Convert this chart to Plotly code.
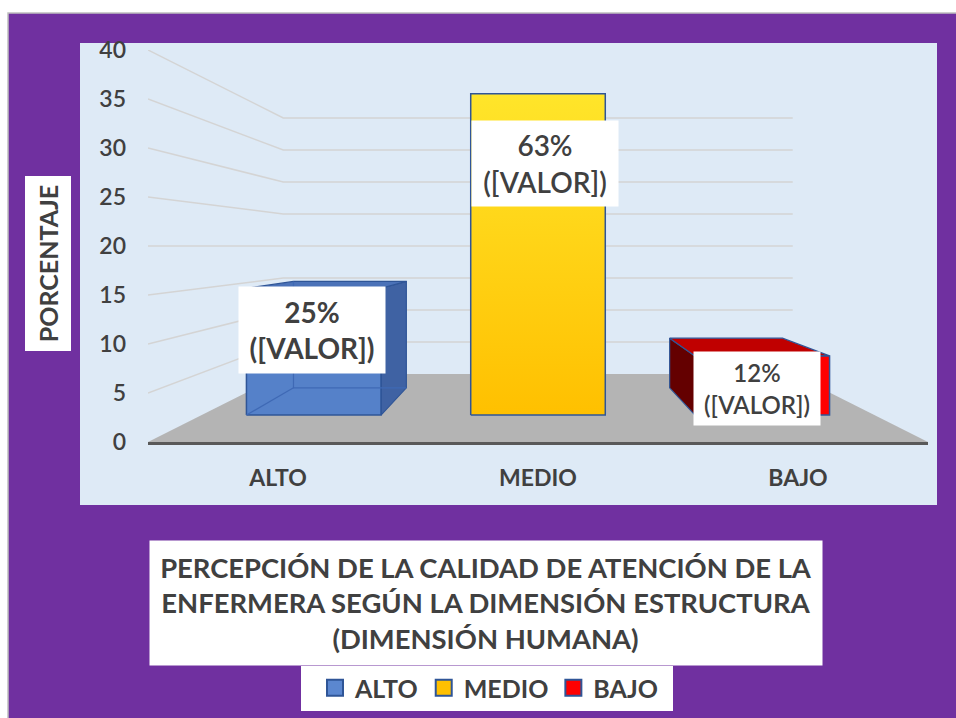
import plotly.graph_objects as go

# ---------------- data ----------------
categories = ["ALTO", "MEDIO", "BAJO"]
values = [15, 38, 7]                      # counts (n = 60)
total = sum(values)
pct_labels = [f"{round(v / total * 100)}%" for v in values]
y_ticks = [0, 5, 10, 15, 20, 25, 30, 35, 40]

# ---------------- styles ----------------
PURPLE = "#7030A0"
PLOT_BG = "#DEEAF6"
TXT = "#404040"
FONT = "Lato"
face_colors = {
    "ALTO": dict(front="#5581C9", side="#3F62A3", top="#4B72B8"),
    "MEDIO": dict(front="#FFC000", side="#D9A300", top="#FFD34D"),
    "BAJO": dict(front="#FF0000", side="#640000", top="#C00000"),
}
legend_colors = {"ALTO": "#5B87D0", "MEDIO": "#FFC000", "BAJO": "#FF0000"}
EDGE = "#2F5597"

# perspective "camera" (in category / value units)
VPX, VPV, K = 1.5, 20.0, 0.531
D0, D1, HALF_W = 0.30, 0.72, 0.30


def proj(X, V, d):
    f = 1.0 / (1.0 + K * d)
    return VPX + (X - VPX) * f, VPV + (V - VPV) * f


def poly(pts):
    xs, ys = zip(*[proj(*p) for p in pts])
    return list(xs) + [xs[0]], list(ys) + [ys[0]]


def line_pts(pts):
    xs, ys = zip(*[proj(*p) for p in pts])
    return list(xs), list(ys)


fig = go.Figure()
nx = len(categories)

# gridlines on the left wall + back wall
for v in y_ticks[1:]:
    xs, ys = line_pts([(0, v, 0), (0, v, 1), (nx, v, 1)])
    fig.add_trace(go.Scatter(x=xs, y=ys, mode="lines",
                             line=dict(color="#D4D4D4", width=1.5), hoverinfo="skip",
                             showlegend=False))

# floor
fx, fy = poly([(0, 0, 0), (0, 0, 1), (nx, 0, 1), (nx, 0, 0)])
fig.add_trace(go.Scatter(x=fx, y=fy, mode="lines", fill="toself", fillcolor="#B4B4B4",
                         line=dict(width=0), hoverinfo="skip", showlegend=False))

# 3D bars
for i, (cat, v) in enumerate(zip(categories, values)):
    c = i + 0.5
    x0, x1 = c - HALF_W, c + HALF_W
    col = face_colors[cat]
    faces = []
    if x1 < VPX:
        faces.append(([(x1, 0, D0), (x1, 0, D1), (x1, v, D1), (x1, v, D0)], col["side"]))
    if x0 > VPX:
        faces.append(([(x0, 0, D0), (x0, 0, D1), (x0, v, D1), (x0, v, D0)], col["side"]))
    if v < VPV:
        faces.append(([(x0, v, D0), (x1, v, D0), (x1, v, D1), (x0, v, D1)], col["top"]))
    for pts, fc in faces:
        xs, ys = poly(pts)
        fig.add_trace(go.Scatter(x=xs, y=ys, mode="lines", fill="toself", fillcolor=fc,
                                 line=dict(color=EDGE, width=1.2), hoverinfo="skip",
                                 showlegend=False))
    xs, ys = poly([(x0, 0, D0), (x1, 0, D0), (x1, v, D0), (x0, v, D0)])
    kw = dict(fillcolor=col["front"])
    if cat == "MEDIO":
        kw = dict(fillgradient=dict(type="vertical",
                                    colorscale=[[0, "#FFC000"], [1, "#FFE52A"]]))
    fig.add_trace(go.Scatter(x=xs, y=ys, mode="lines", fill="toself",
                             line=dict(color=EDGE, width=1.5), hoverinfo="skip",
                             showlegend=False, **kw))
    if cat == "ALTO":
        # see-through look: inner back edges
        for pts in ([(x0, v, D1), (x0, 0, D1), (x1, 0, D1)], [(x0, 0, D0), (x0, 0, D1)]):
            xs, ys = line_pts(pts)
            fig.add_trace(go.Scatter(x=xs, y=ys, mode="lines",
                                     line=dict(color="#3F69B5", width=1.2),
                                     hoverinfo="skip", showlegend=False))

# legend entries
for cat in categories:
    fig.add_trace(go.Scatter(x=[None], y=[None], mode="markers", name=f"<b>{cat}</b>",
                             marker=dict(symbol="square", size=16, color=legend_colors[cat],
                                         line=dict(color=EDGE, width=2))))

# data labels (x, y, box w, box h, font size, weight)
label_pos = {"ALTO": (0.631, 11.43, 146, 86, 28, 700),
             "MEDIO": (1.527, 28.42, 146, 85, 28, 600),
             "BAJO": (2.342, 5.46, 126, 73, 24, 600)}
for cat, p in zip(categories, pct_labels):
    x, y, w, h, s, wt = label_pos[cat]
    fig.add_annotation(x=x, y=y, xref="x", yref="y", text=f"{p}<br>([VALOR])",
                       showarrow=False, xanchor="center", yanchor="middle",
                       bgcolor="white", width=w, height=h, borderpad=0,
                       font=dict(family=FONT, size=s, color=TXT, weight=wt))

W, H = 956, 718
L, R, T, B = 148, 28, 50, 276
PW, PH = W - L - R, H - T - B


def px(x):
    return (x - L) / PW


def py(y):
    return (H - B - y) / PH


shapes = [
    dict(type="rect", xref="paper", yref="paper", x0=px(8), x1=px(962), y0=py(724), y1=py(13),
         fillcolor=PURPLE, line=dict(color="#BFBFBF", width=1.5), layer="below"),
    dict(type="rect", xref="paper", yref="paper", x0=px(80), x1=px(937), y0=py(505), y1=py(43),
         fillcolor=PLOT_BG, line=dict(width=0), layer="below"),
    dict(type="rect", xref="paper", yref="paper", x0=px(301), x1=px(673), y0=py(711), y1=py(666),
         fillcolor="white", line=dict(width=0), layer="below"),
]

fig.add_annotation(x=px(47.5), y=py(264), xref="paper", yref="paper", text="<b>PORCENTAJE</b>",
                   textangle=-90, showarrow=False, xanchor="center", yanchor="middle",
                   bgcolor="white", width=174, height=45,
                   borderpad=0, font=dict(family=FONT, size=25, color=TXT))
fig.add_annotation(x=px(486), y=py(603), xref="paper", yref="paper",
                   text="<b>PERCEPCIÓN DE LA CALIDAD DE ATENCIÓN DE LA<br>"
                        "ENFERMERA SEGÚN LA DIMENSIÓN ESTRUCTURA<br>(DIMENSIÓN HUMANA)</b>",
                   showarrow=False, xanchor="center", yanchor="middle",
                   bgcolor="white", width=672, height=124, borderpad=0,
                   font=dict(family=FONT, size=27.4, color=TXT))

fig.update_layout(
    width=W, height=H, margin=dict(l=L, r=R, t=T, b=B, autoexpand=False),
    paper_bgcolor="white", plot_bgcolor="rgba(0,0,0,0)", shapes=shapes,
    showlegend=True,
    legend=dict(orientation="h", x=px(489), y=py(688), xanchor="center", yanchor="middle",
                bgcolor="rgba(0,0,0,0)", font=dict(family=FONT, size=25, color=TXT),
                itemclick=False, itemdoubleclick=False),
    xaxis=dict(range=[0, nx], tickvals=[i + 0.5 for i in range(nx)],
               ticktext=[f"<b>{c}</b>" for c in categories], showgrid=False, zeroline=False,
               showline=True, linecolor="#595959", linewidth=3, ticks="",
               tickfont=dict(family=FONT, size=23, color=TXT), ticklabelstandoff=13,
               fixedrange=True),
    yaxis=dict(range=[0, 40], tickvals=y_ticks, showgrid=False, zeroline=False,
               showline=False, ticks="", tickfont=dict(family=FONT, size=23, color=TXT, weight=600),
               ticklabelstandoff=21, fixedrange=True),
    hovermode=False,
)

fig.write_html("out.html", config={"displayModeBar": False},
               post_script="document.body.style.margin='0';")
